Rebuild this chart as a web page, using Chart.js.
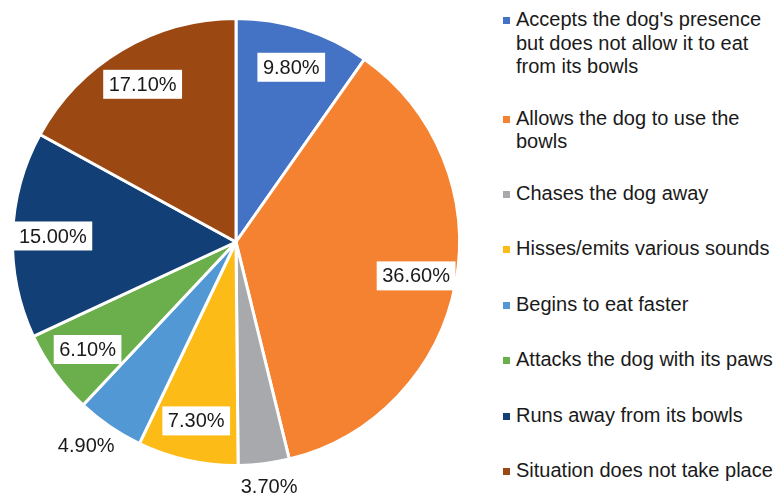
<!DOCTYPE html>
<html>
<head>
<meta charset="utf-8">
<script src="https://cdn.jsdelivr.net/npm/chart.js@4"></script>
<style>
  html, body { margin: 0; padding: 0; background: #fff; }
  #wrap { position: relative; width: 773px; height: 497px; overflow: hidden; }
  #pieChart { position: absolute; left: 0; top: 0; }
  #legend {
    position: absolute; left: 503px; top: 8px; width: 278px;
    margin: 0; padding: 0; list-style: none;
    font-family: "Liberation Sans", Arial, sans-serif; font-size: 20px; color: #1a1a1a;
  }
  #legend li { position: relative; padding-left: 13px; line-height: 23.5px; margin-bottom: 32px; }
  #legend li:nth-child(-n+2) { margin-bottom: 28px; }
  #legend li span {
    position: absolute; left: 0; top: 9px; width: 7px; height: 7px;
  }
</style>
</head>
<body>
<div id="wrap">
  <canvas id="pieChart" width="472" height="497"></canvas>
  <ul id="legend"></ul>
</div>
<script>
const categories = [
    "Accepts the dog's presence but does not allow it to eat from its bowls",
    'Allows the dog to use the bowls',
    'Chases the dog away',
    'Hisses/emits various sounds',
    'Begins to eat faster',
    'Attacks the dog with its paws',
    'Runs away from its bowls',
    'Situation does not take place'
];
const percents = [9.8, 36.6, 3.7, 7.3, 4.9, 6.1, 15.0, 17.1];
const sliceColors = ['#4472C4', '#F58231', '#A7A9AC', '#FDBB17', '#5298D4', '#6AAF4B', '#123F75', '#9B4812'];

// percentage labels: white boxes inside the slices, plain text outside for the small ones
const valueLabels = {
    id: 'valueLabels',
    afterDatasetsDraw(chart) {
        const ctx = chart.ctx;
        const meta = chart.getDatasetMeta(0);
        ctx.save();
        ctx.font = '20px "Liberation Sans", Arial, sans-serif';
        ctx.textAlign = 'center';
        ctx.textBaseline = 'middle';
        meta.data.forEach((arc, i) => {
            const p = arc.getProps(['x', 'y', 'startAngle', 'endAngle', 'outerRadius'], true);
            const mid = (p.startAngle + p.endAngle) / 2;
            const small = percents[i] < 5;
            const text = percents[i].toFixed(2) + '%';
            const w = ctx.measureText(text).width;
            let x, y;
            if (small) {
                // outside: push the text so its near edge sits just past the rim
                const r = p.outerRadius * 1.06;
                x = p.x + Math.cos(mid) * (r + w / 2);
                y = p.y + Math.sin(mid) * (r + 10);
            } else {
                const r = p.outerRadius * 0.82;
                x = p.x + Math.cos(mid) * r;
                y = p.y + Math.sin(mid) * r;
                ctx.fillStyle = '#fff';
                ctx.fillRect(x - (w + 11) / 2, y - 14.5, w + 11, 29);
            }
            ctx.fillStyle = '#1a1a1a';
            ctx.fillText(text, x, y + 1);
        });
        ctx.restore();
    }
};

const ctx = document.getElementById('pieChart');
const myChart = new Chart(ctx, {
    type: 'pie',
    data: {
        labels: categories,
        datasets: [{
            data: percents,
            backgroundColor: sliceColors,
            borderColor: '#fff',
            borderWidth: 3
        }]
    },
    options: {
        responsive: false,
        animation: false,
        layout: { padding: { left: 11, right: 11, top: 17, bottom: 30 } },
        plugins: {
            legend: { display: false },
            tooltip: { enabled: false }
        }
    },
    plugins: [valueLabels]
});

// html legend so the long labels can wrap
const legendEl = document.getElementById('legend');
myChart.options.plugins.legend.labels.generateLabels(myChart).forEach((item, i) => {
    const li = document.createElement('li');
    const box = document.createElement('span');
    box.style.background = sliceColors[i];
    li.appendChild(box);
    li.appendChild(document.createTextNode(categories[i]));
    legendEl.appendChild(li);
});
</script>
</body>
</html>
